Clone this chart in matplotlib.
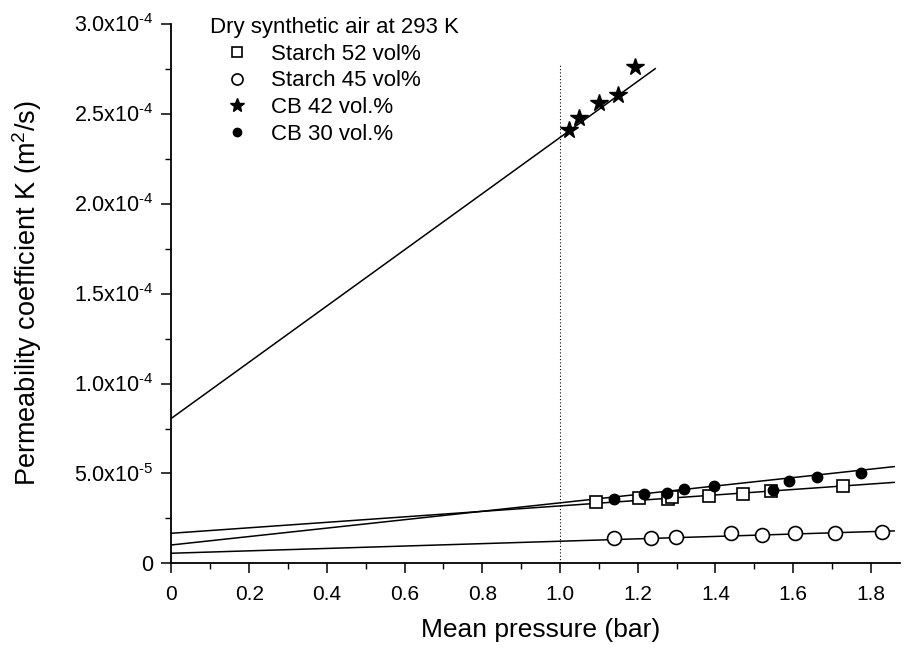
import numpy as np
import matplotlib
matplotlib.use('Agg')
import matplotlib.pyplot as plt
from matplotlib.ticker import FixedLocator, MultipleLocator

plt.rcParams['font.family'] = ['Liberation Sans', 'DejaVu Sans']
plt.rcParams['mathtext.fontset'] = 'custom'
plt.rcParams['mathtext.rm'] = 'Liberation Sans'
plt.rcParams['mathtext.default'] = 'regular'

# data (pressure in bar, K in m^2/s)
starch52_p = [1.093, 1.204, 1.277, 1.288, 1.384, 1.472, 1.544, 1.729]
starch52_k = [3.43e-5, 3.66e-5, 3.58e-5, 3.68e-5, 3.75e-5, 3.86e-5, 4.04e-5, 4.31e-5]

starch45_p = [1.140, 1.234, 1.299, 1.440, 1.519, 1.605, 1.708, 1.828]
starch45_k = [1.40e-5, 1.40e-5, 1.49e-5, 1.68e-5, 1.58e-5, 1.68e-5, 1.71e-5, 1.77e-5]

cb42_p = [1.023, 1.048, 1.099, 1.150, 1.194]
cb42_k = [2.408e-4, 2.473e-4, 2.560e-4, 2.603e-4, 2.757e-4]

cb30_p = [1.138, 1.215, 1.275, 1.318, 1.397, 1.547, 1.588, 1.661, 1.774]
cb30_k = [3.60e-5, 3.84e-5, 3.93e-5, 4.12e-5, 4.31e-5, 4.08e-5, 4.58e-5, 4.81e-5, 5.04e-5]

# fitted lines: intercept, slope, end of line
fit_intercept = [1.68e-5, 0.57e-5, 8.07e-5, 1.03e-5]
fit_slope = [1.52e-5, 0.667e-5, 1.56e-4, 2.34e-5]
fit_end = [1.86, 1.86, 1.245, 1.86]

xticks = [0, 0.2, 0.4, 0.6, 0.8, 1.0, 1.2, 1.4, 1.6, 1.8]
xtick_labels = ['0', '0.2', '0.4', '0.6', '0.8', '1.0', '1.2', '1.4', '1.6', '1.8']
yticks = [0, 5e-5, 1e-4, 1.5e-4, 2e-4, 2.5e-4, 3e-4]
ytick_labels = ['0', '5.0x10$^{\u20105}$', '1.0x10$^{\u20104}$', '1.5x10$^{\u20104}$',
                '2.0x10$^{\u20104}$', '2.5x10$^{\u20104}$', '3.0x10$^{\u20104}$']

fig = plt.figure(figsize=(9.05, 6.55), dpi=100)
ax = fig.add_axes([0.1895, 0.1397, 0.805, 0.8244])

# regression lines
for b, m, xe in zip(fit_intercept, fit_slope, fit_end):
    xs = np.array([0.0, xe])
    ax.plot(xs, b + m * xs, color='k', lw=1.1, zorder=2)

# reference line at 1 bar
ax.plot([1.0, 1.0], [0, 2.77e-4], color='k', ls=(0, (1, 2)), lw=0.8, zorder=1)

ax.plot(starch52_p, starch52_k, 's', ls='none', mfc='white', mec='k', ms=9, mew=1.2,
        label='Starch 52 vol%', zorder=3)
ax.plot(starch45_p, starch45_k, 'o', ls='none', mfc='white', mec='k', ms=10, mew=1.2,
        label='Starch 45 vol%', zorder=3)
ax.plot(cb42_p, cb42_k, '*', ls='none', color='k', ms=13,
        label='CB 42 vol.%', zorder=3)
ax.plot(cb30_p, cb30_k, 'o', ls='none', color='k', ms=7.5,
        label='CB 30 vol.%', zorder=3)

leg = ax.legend(title='Dry synthetic air at 293 K', loc='upper left',
                bbox_to_anchor=(210 / 905, 1 - 17 / 655), bbox_transform=fig.transFigure,
                frameon=False, fontsize=16, title_fontsize=16, markerscale=0.8,
                handlelength=2.4, handletextpad=0.35, labelspacing=0.26,
                borderpad=0, borderaxespad=0, alignment='left')
leg._legend_box.sep = 4

ax.set_xlim(0, 1.875)
ax.set_ylim(0, 3e-4)
ax.xaxis.set_major_locator(FixedLocator(xticks))
ax.set_xticklabels(xtick_labels)
ax.xaxis.set_minor_locator(MultipleLocator(0.1))
ax.yaxis.set_major_locator(FixedLocator(yticks))
ax.set_yticklabels(ytick_labels)
ax.yaxis.set_minor_locator(MultipleLocator(2.5e-5))

for s in ['top', 'right']:
    ax.spines[s].set_visible(False)
for s in ['left', 'bottom']:
    ax.spines[s].set_linewidth(1.3)

ax.tick_params(which='major', direction='out', length=7, width=1.1)
ax.tick_params(which='minor', direction='out', length=4, width=1.0)
ax.tick_params(axis='x', which='major', labelsize=15, pad=8.5)
ax.tick_params(axis='y', which='major', labelsize=15.5, pad=6)

ax.set_xlabel('Mean pressure (bar)', fontsize=19)
ax.set_ylabel('Permeability coefficient K (m$^2$/s)', fontsize=19.5)
ax.xaxis.set_label_coords(0.507, -0.101)
ax.yaxis.set_label_coords(-0.175, 0.5)

fig.savefig('out.png', dpi=100)
